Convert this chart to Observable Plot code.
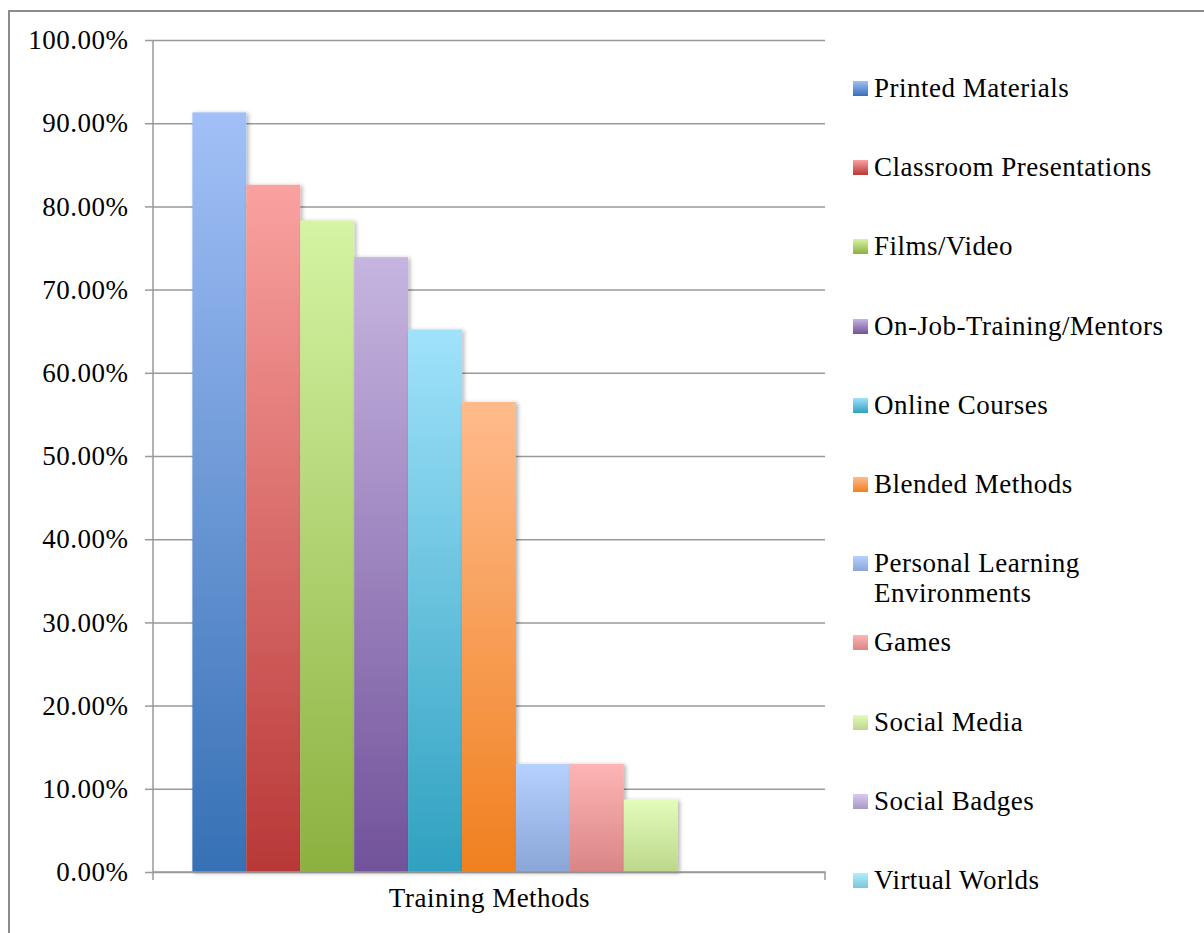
<!DOCTYPE html>
<html><head><meta charset="utf-8">
<script src="https://cdn.jsdelivr.net/npm/d3@7"></script>
<script src="https://cdn.jsdelivr.net/npm/@observablehq/plot@0.6"></script>
<style>
body{margin:0;background:#fff;}
#wrap{position:relative;width:1204px;height:933px;overflow:hidden;font-family:"Liberation Serif",serif;}
#border{position:absolute;left:8px;top:10px;width:1300px;height:1000px;border-left:2px solid #8c8c8c;border-top:2px solid #8c8c8c;}
#chart{position:absolute;left:0;top:0;}
.item{position:absolute;left:853px;display:flex;align-items:flex-start;font-size:27px;line-height:30px;letter-spacing:0.5px;color:#000;}
.sw{width:15px;height:15px;margin-top:8px;margin-right:6px;flex:none;}
.lab{max-width:300px;}
</style></head><body>
<div id="wrap"><div id="border"></div><div id="chart"></div><div id="legend"></div></div>
<script>
const categories = ["Printed Materials","Classroom Presentations","Films/Video","On-Job-Training/Mentors","Online Courses","Blended Methods","Personal Learning Environments","Games","Social Media","Social Badges","Virtual Worlds"];
const values = [0.913, 0.826, 0.783, 0.739, 0.652, 0.565, 0.130, 0.130, 0.087, 0, 0];
const topColors = ["#a2c0f7","#faa2a0","#d5f4a4","#c6b5e0","#a0e2fb","#ffbb8c","#b6d1ff","#ffb5b5","#e3fcba","#d8caf2","#b0effc"];
const bottomColors = ["#3670b5","#b83836","#8cb13f","#71529b","#2fa1c0","#f0801f","#8aa6d7","#d98585","#bcd78b","#a898c6","#7ac5dc"];
const yTicks = [0,0.1,0.2,0.3,0.4,0.5,0.6,0.7,0.8,0.9,1.0];
const axisTitle = "Training Methods";

const W = 1204, H = 933, ML = 153, MR = 379, MT = 40, MB = 61;
const data = categories.map((c,i)=>({name:c, value:values[i]}));

const frameLines = (index, scales) => {
  const g = d3.create("svg:g");
  const x0 = ML, x1 = W - MR, yb = H - MB, yt = MT;
  g.append("path")
    .attr("d", `M${x0},${yt}V${yb+8}M${x0},${yb}H${x1}V${yb+8}`)
    .attr("fill","none").attr("stroke","#999").attr("stroke-width",1.5);
  return g.node();
};

const chart = Plot.plot({
  width: W, height: H,
  marginLeft: ML, marginRight: MR, marginTop: MT, marginBottom: MB,
  style: {fontFamily: '"Liberation Serif", serif', fontSize: "27px", letterSpacing: "0.5px", color: "#000", background: "transparent"},
  x: {type: "band", domain: categories, paddingInner: 0, paddingOuter: 0.73, round: false, axis: null},
  y: {domain: [0, 1], axis: null},
  color: {type: "ordinal", domain: categories, range: categories.map((c,i)=>`url(#grad${i})`)},
  marks: [
    Plot.gridY(yTicks, {stroke: "#999", strokeOpacity: 1, strokeWidth: 1.5}),
    Plot.axisY(yTicks, {tickSize: 8, tickPadding: 17, stroke: "#999", strokeWidth: 1.5, fill: "#000",
      tickFormat: d => (d*100).toFixed(2) + "%", label: null}),
    Plot.barY(data, {x: "name", y: "value", fill: "name", inset: 0}),
    frameLines,
    Plot.text([axisTitle], {frameAnchor: "bottom", dy: 34, fill: "#000"})
  ]
});
document.getElementById("chart").appendChild(chart);

const svg = d3.select(chart);
const defs = svg.insert("defs", ":first-child");
categories.forEach((c,i)=>{
  const lg = defs.append("linearGradient").attr("id", `grad${i}`).attr("x1",0).attr("y1",0).attr("x2",0).attr("y2",1);
  lg.append("stop").attr("offset","0%").attr("stop-color", topColors[i]);
  lg.append("stop").attr("offset","100%").attr("stop-color", bottomColors[i]);
});
const f = defs.append("filter").attr("id","shadow").attr("x","-20%").attr("y","-5%").attr("width","140%").attr("height","110%");
f.append("feDropShadow").attr("dx",2).attr("dy",1).attr("stdDeviation",2).attr("flood-color","#000").attr("flood-opacity",0.3);
svg.selectAll('g[aria-label="bar"] rect').attr("filter","url(#shadow)");

const legend = d3.select("#legend");
categories.forEach((c,i)=>{
  const it = legend.append("div").attr("class","item").style("top", (88 - 15 + i*79.2) + "px");
  it.append("div").attr("class","sw").style("background", `linear-gradient(${topColors[i]}, ${bottomColors[i]})`);
  it.append("div").attr("class","lab").text(c);
});
</script>
</body></html>
